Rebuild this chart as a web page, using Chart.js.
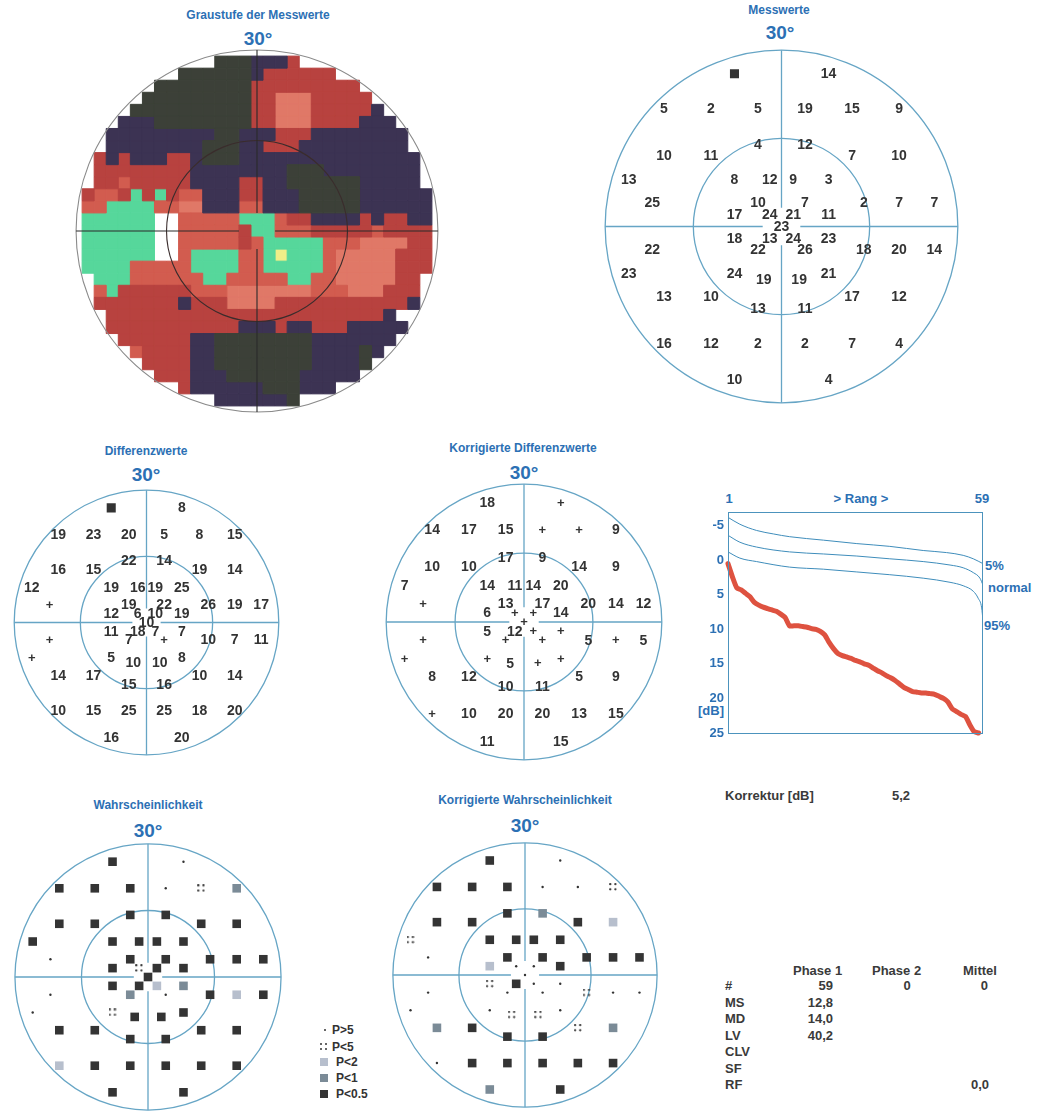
<!DOCTYPE html>
<html><head><meta charset="utf-8">
<script src="https://cdn.jsdelivr.net/npm/chart.js"></script>
<style>
html,body{margin:0;padding:0;background:#fff;}
body{width:1037px;height:1111px;position:relative;overflow:hidden;font-family:"Liberation Sans",Arial,Helvetica,sans-serif;}
canvas{position:absolute;display:block;}
.t{position:absolute;font-weight:bold;white-space:nowrap;line-height:1;}
.c{transform:translateX(-50%);}
.r{transform:translateX(-100%);}
.blue{color:#2c70b4;}
.ttl{font-size:12px;}
.deg{font-size:19px;}
.dk{color:#3a3a3a;font-size:13px;}
.lg{color:#333;font-size:12px;}
.b13{font-size:13px;}
.sq{position:absolute;width:8px;height:8px;}
.dot{position:absolute;width:2px;height:2px;background:#333;border-radius:1px;}
</style></head><body>

<div class="t c blue ttl" style="left:258px;top:9px">Graustufe der Messwerte</div>
<div class="t c blue deg" style="left:258px;top:29px">30°</div>
<div class="t c blue ttl" style="left:779px;top:4px">Messwerte</div>
<div class="t c blue deg" style="left:780px;top:23px">30°</div>
<div class="t c blue ttl" style="left:146px;top:445px">Differenzwerte</div>
<div class="t c blue deg" style="left:146px;top:465px">30°</div>
<div class="t c blue ttl" style="left:523px;top:442px">Korrigierte Differenzwerte</div>
<div class="t c blue deg" style="left:524px;top:463px">30°</div>
<div class="t c blue ttl" style="left:148px;top:799px">Wahrscheinlichkeit</div>
<div class="t c blue deg" style="left:148px;top:821px">30°</div>
<div class="t c blue ttl" style="left:525px;top:794px">Korrigierte Wahrscheinlichkeit</div>
<div class="t c blue deg" style="left:525px;top:816px">30°</div>

<div class="t c blue b13" style="left:729px;top:492px">1</div>
<div class="t c blue b13" style="left:861px;top:492px">&gt; Rang &gt;</div>
<div class="t c blue b13" style="left:982px;top:492px">59</div>
<div class="t c blue b13" style="left:711px;top:704px">[dB]</div>
<div class="t blue b13" style="left:985px;top:559px">5%</div>
<div class="t blue b13" style="left:988px;top:581px">normal</div>
<div class="t blue b13" style="left:984px;top:619px">95%</div>

<div class="t dk" style="left:725px;top:789px">Korrektur [dB]</div>
<div class="t dk" style="left:892px;top:789px">5,2</div>

<div class="t dk" style="left:793px;top:964px">Phase 1</div>
<div class="t dk" style="left:872px;top:964px">Phase 2</div>
<div class="t dk" style="left:963px;top:964px">Mittel</div>
<div class="t dk" style="left:725px;top:979px">#</div>
<div class="t dk" style="left:725px;top:996px">MS</div>
<div class="t dk" style="left:725px;top:1012px">MD</div>
<div class="t dk" style="left:725px;top:1029px">LV</div>
<div class="t dk" style="left:725px;top:1045px">CLV</div>
<div class="t dk" style="left:725px;top:1062px">SF</div>
<div class="t dk" style="left:725px;top:1078px">RF</div>
<div class="t dk r" style="left:833px;top:979px">59</div>
<div class="t dk r" style="left:833px;top:996px">12,8</div>
<div class="t dk r" style="left:833px;top:1012px">14,0</div>
<div class="t dk r" style="left:833px;top:1029px">40,2</div>
<div class="t dk c" style="left:907px;top:979px">0</div>
<div class="t dk r" style="left:988px;top:979px">0</div>
<div class="t dk r" style="left:989px;top:1078px">0,0</div>

<div class="dot" style="left:324px;top:1029px"></div>
<div class="t lg" style="left:332px;top:1024px">P&gt;5</div>
<div class="dot" style="left:320px;top:1043px"></div><div class="dot" style="left:325px;top:1043px"></div>
<div class="dot" style="left:320px;top:1048px"></div><div class="dot" style="left:325px;top:1048px"></div>
<div class="t lg" style="left:332px;top:1041px">P&lt;5</div>
<div class="sq" style="left:320px;top:1058px;background:#b7bfcd"></div>
<div class="t lg" style="left:336px;top:1056px">P&lt;2</div>
<div class="sq" style="left:320px;top:1074px;background:#7b8b97"></div>
<div class="t lg" style="left:336px;top:1072px">P&lt;1</div>
<div class="sq" style="left:320px;top:1090px;background:#343434"></div>
<div class="t lg" style="left:336px;top:1088px">P&lt;0.5</div>

<script>
// ---------------- DATA ----------------
// test point positions (degrees) of the 59-point 30° pattern
const fieldX = [-8,8, -20,-12,-4,4,12,20, -4,4, -20,-12,12,20, -26,-8,-2,2,8, -22,-4,4,14,20,26, -8,-2,2,8, 0, -8,-2,2,8, -22,-4,4,14,20,26, -26,-8,-3,3,8, -20,-12,12,20, -4,4, -20,-12,-4,4,12,20, -8,8];
const fieldY = [26,26, 20,20,20,20,20,20, 14,14, 12,12,12,12, 8,8,8,8,8, 4,4,4,4,4,4, 2,2,2,2, 0, -2,-2,-2,-2, -4,-4,-4,-4,-4,-4, -8,-8,-9,-9,-8, -12,-12,-12,-12, -14,-14, -20,-20,-20,-20,-20,-20, -26,-26];

const messwerte = ['■',14, 5,2,5,19,15,9, 4,12, 10,11,7,10, 13,8,12,9,3, 25,10,7,2,7,7, 17,24,21,11, 23, 18,13,24,23, 22,22,26,18,20,14, 23,24,19,19,21, 13,10,17,12, 13,11, 16,12,2,2,7,4, 10,4];
const differenzwerte = ['■',8, 19,23,20,5,8,15, 22,14, 16,15,19,14, 12,19,16,19,25, '+',19,22,26,19,17, 12,6,10,19, 10, 11,18,7,7, '+',7,'+',10,7,11, '+',5,10,10,8, 14,17,10,14, 15,16, 10,15,25,25,18,20, 16,20];
const korrDifferenzwerte = [18,'+', 14,17,15,'+','+',9, 17,9, 10,10,14,9, 7,14,11,14,20, '+',13,17,20,14,12, 6,'+','+',14, '+', 5,12,'+','+', '+','+','+',5,'+',5, '+','+',5,'+','+', 8,12,5,9, 10,11, '+',10,20,20,13,15, 11,15];

// probability classes: d=P<0.5, g=P<1, l=P<2, q=P<5, o=P>5
const wahrscheinlichkeit = ['d','o', 'd','d','d','o','q','g', 'd','d', 'd','d','d','d', 'd','d','d','d','d', 'o','d','d','d','d','d', 'd','q','d','d', 'd', 'd','d','l','g', 'o','g','o','d','l','d', 'o','q','d','d','d', 'd','d','d','d', 'd','d', 'l','d','d','d','d','d', 'd','d'];
const korrWahrscheinlichkeit = ['d','o', 'd','d','d','o','o','q', 'd','g', 'd','d','d','l', 'q','d','d','d','d', 'o','d','d','d','d','d', 'l','o','o','d', 'o', 'q','d','o','o', 'o','o','o','q','o','o', 'o','o','q','q','o', 'g','d','q','g', 'd','d', 'o','d','d','d','d','d', 'g','d'];

// grey-scale map cells, rows y = 28 .. -28 (step 2), columns x = -30 .. 30 (step 2)
const mapRows = [
"............DDDPPPR............",
".........DDDDDDPRRRRRR.........",
".......DDDDDDDDRRRRRRRRR.......",
"......DDDDDDDDDRRLLLRRRRR......",
".....DDDDDDDDDDRRLLLRRRRRP.....",
"....PPPDDDDDDDDRRLLLRRRRPPP....",
"...PPPPPPPPPDDPPPRRRPPPPPPPP...",
"...PPPPPPPPDDDPPRRRPPPPPPPPP...",
"..RPRPPPRRPDDDPPPPPPPPPPPPPPP..",
"..RRRRRRRRPPPPPPPPDDDPPPPPPPP..",
"..RRSRRRRRPPPPRRPPDDDDDDPPPPP..",
".RSSRGRGRSSPPPRRPPPDDDDDPPPPPP.",
".SSGGGGSSLLPPPSSPPPDDDDDPPPPPP.",
".GGGGGGWWSSSSSGGGSRRPPPPRPRRPP.",
".GGGGGGWWSSSSSRGGSSSRRRRRSRRRR.",
".GGGGGGWWSSSSSRSGGGGGSSSLLLLRR.",
".GGGGGGWWSGGGGSSGYGGGSLLLLLRRR.",
".GGGGSSSSSGGGGSSGGGGGSLLLLLRRR.",
"..GGGSSSSSSGGSSSSSGGSSLLLLLRR..",
"..SGRRRRRRSSSLLLLLLLSSSLLLRRR..",
"..RRRRRRRPRRRLLLLRRRRRRRRRRRP..",
"...RRRRRRRRRRRRRRRRRRRRRRRP...",
"...RRRRRRRRRRRPPPRPPRRRPPPPP...",
"....RRRRRRPPDDDDDDDDPPPPPPP....",
".....SRRRRPPDDDDDDDDPPPPDP.....",
"......RRRRPPDDDDDDDDPPPPD......",
".......RRRPPPDDDDDDPPPPP.......",
".........RPPPPPPDDDPPP.........",
"............PPPPPPD............"
];
const mapClasses = ['D','P','R','S','L','G','Y'];
const mapColors = {D:'#3c4038', P:'#3c3353', R:'#b8423f', S:'#d25c4f', L:'#e07867', G:'#56d79b', Y:'#efee88'};

// Bebie curve (rank -> dB)
const rank5 = [1,3.7,7.5,11.3,15,22.7,30.3,37.8,45.4,50.7,54.5,56.8,59];
const curve5 = [-6.2,-5.2,-4.3,-3.8,-3.4,-2.9,-2.4,-2.0,-1.4,-1.1,-0.7,-0.2,0.5];
const rankNormal = [1,3.7,7.5,15,22.7,30.3,37.8,45.4,51.5,54.5,56.8,58.3,59];
const curveNormal = [-3.6,-2.6,-1.9,-1.2,-0.9,-0.6,-0.2,0.2,0.7,1.1,1.8,2.6,3.6];
const rank95 = [1,3.7,7.5,15,22.7,30.3,37.8,45.4,51.5,54.5,56.8,57.9,58.7,59];
const curve95 = [-1.2,-0.3,0.2,1.0,1.3,1.7,2.1,2.6,3.2,3.7,4.5,5.5,6.9,8.8];
const defectCurve = [0.5,2.4,4.0,4.3,4.8,5.3,6.1,6.5,6.8,7.0,7.2,7.4,7.8,8.3,9.5,9.5,9.5,9.6,9.7,9.9,10.0,10.3,10.8,11.9,12.8,13.5,13.8,14.0,14.2,14.5,14.7,15.0,15.2,15.6,16.0,16.3,16.7,17.0,17.4,17.9,18.4,18.7,19.0,19.1,19.2,19.2,19.3,19.4,19.7,20.0,20.5,21.5,21.9,22.3,22.6,23.8,24.8,25.0];
const dbTicks = [-5,0,5,10,15,20,25];

// ---------------- RENDERING ----------------
Chart.defaults.font.family = '"Liberation Sans", Arial, sans-serif';
const FONT = '"Liberation Sans", Arial, sans-serif';

function makeCanvas(left, top, w, h){
  const c = document.createElement('canvas');
  c.width = w; c.height = h;
  c.style.left = left+'px'; c.style.top = top+'px';
  c.style.width = w+'px'; c.style.height = h+'px';
  document.body.appendChild(c);
  return c;
}

function drawRings(chart, o){
  const xs = chart.scales.x, ys = chart.scales.y, ctx = chart.ctx;
  const cx = xs.getPixelForValue(0), cy = ys.getPixelForValue(0);
  const rx = xs.getPixelForValue(30) - cx, ry = cy - ys.getPixelForValue(30);
  ctx.save();
  ctx.lineWidth = o.lw;
  ctx.strokeStyle = o.outer;
  ctx.beginPath(); ctx.ellipse(cx, cy, rx, ry, 0, 0, Math.PI*2); ctx.stroke();
  ctx.strokeStyle = o.inner; ctx.lineWidth = o.lwInner || o.lw;
  ctx.beginPath(); ctx.ellipse(cx, cy, rx/2, ry/2, 0, 0, Math.PI*2); ctx.stroke();
  ctx.strokeStyle = o.cross; ctx.lineWidth = o.lw;
  const g = o.gap;
  ctx.beginPath();
  ctx.moveTo(xs.getPixelForValue(-30), cy); ctx.lineTo(xs.getPixelForValue(-g), cy);
  ctx.moveTo(xs.getPixelForValue(g), cy); ctx.lineTo(xs.getPixelForValue(30), cy);
  ctx.moveTo(cx, ys.getPixelForValue(30)); ctx.lineTo(cx, ys.getPixelForValue(g));
  ctx.moveTo(cx, ys.getPixelForValue(-g)); ctx.lineTo(cx, ys.getPixelForValue(-30));
  ctx.stroke();
  ctx.restore();
}
const ringPlugin = {
  id: 'rings',
  beforeDatasetsDraw(chart, args, o){ if (!o.over) drawRings(chart, o); },
  afterDatasetsDraw(chart, args, o){ if (o.over) drawRings(chart, o); }
};
const labelPlugin = {
  id: 'vlabels',
  afterDatasetsDraw(chart){
    const ctx = chart.ctx;
    chart.data.datasets.forEach((ds, i) => {
      if (!ds.valueLabels) return;
      const meta = chart.getDatasetMeta(i);
      ctx.save();
      ctx.fillStyle = '#333'; ctx.textAlign = 'center'; ctx.textBaseline = 'middle';
      meta.data.forEach((el, k) => {
        const v = ds.valueLabels[k];
        ctx.font = (v === '+') ? 'bold 13px '+FONT : 'bold 14px '+FONT;
        ctx.fillText(String(v), el.x, el.y + 0.5);
      });
      ctx.restore();
    });
  }
};

function ringOptions(r){
  return {
    responsive:false, maintainAspectRatio:false, animation:false, devicePixelRatio:1, events:[],
    layout:{padding:0},
    plugins:{legend:{display:false}, tooltip:{enabled:false}, rings:r},
    scales:{
      x:{type:'linear', min:-32, max:32, display:false},
      y:{type:'linear', min:-32, max:32, display:false}
    }
  };
}
const blueRing = {outer:'#66a5c5', inner:'#66a5c5', cross:'#66a5c5', lw:1.3, gap:3.2, over:false};

function numberPanel(left, top, size, values){
  const cv = makeCanvas(left, top, size, size);
  const textPts = [], textVals = [], sqPts = [];
  values.forEach((v, i) => {
    const p = {x: fieldX[i], y: fieldY[i]};
    if (v === '■') sqPts.push(p); else { textPts.push(p); textVals.push(v); }
  });
  new Chart(cv, {
    type:'scatter',
    data:{datasets:[
      {data:textPts, valueLabels:textVals, pointRadius:0, pointHoverRadius:0},
      {data:sqPts, pointStyle:'rect', pointRadius:6.4, pointBackgroundColor:'#333', pointBorderWidth:0}
    ]},
    options: ringOptions(blueRing),
    plugins:[ringPlugin, labelPlugin]
  });
}

function fourDots(){
  const c = document.createElement('canvas');
  c.width = 8; c.height = 8;
  const x = c.getContext('2d');
  x.fillStyle = '#333';
  [[1.2,1.2],[6.3,1.2],[1.2,6.3],[6.3,6.3]].forEach(([a,b]) => { x.beginPath(); x.arc(a, b, 1.15, 0, Math.PI*2); x.fill(); });
  return c;
}
const quadStyle = fourDots();

function probPanel(left, top, size, classes){
  const cv = makeCanvas(left, top, size, size);
  const pick = k => classes.map((c, i) => c === k ? {x: fieldX[i], y: fieldY[i]} : null).filter(Boolean);
  const sqR = 8.6 / (2*Math.SQRT1_2);
  new Chart(cv, {
    type:'scatter',
    data:{datasets:[
      {data:pick('d'), pointStyle:'rect', pointRadius:sqR, pointBackgroundColor:'#343434', pointBorderWidth:0},
      {data:pick('g'), pointStyle:'rect', pointRadius:sqR, pointBackgroundColor:'#7b8b97', pointBorderWidth:0},
      {data:pick('l'), pointStyle:'rect', pointRadius:sqR, pointBackgroundColor:'#b7bfcd', pointBorderWidth:0},
      {data:pick('q'), pointStyle:quadStyle, pointRadius:4},
      {data:pick('o'), pointStyle:'circle', pointRadius:1.2, pointBackgroundColor:'#333', pointBorderWidth:0}
    ]},
    options: ringOptions(blueRing),
    plugins:[ringPlugin]
  });
}

// grey-scale map
(function(){
  const cv = makeCanvas(64, 38, 386, 386);
  const datasets = mapClasses.map(k => {
    const pts = [];
    mapRows.forEach((row, r) => {
      for (let j = 0; j < row.length; j++) if (row[j] === k) pts.push({x: -30 + 2*j, y: 28 - 2*r});
    });
    return {
      data: pts, pointStyle:'rect',
      pointRadius: c => { const s = c.chart.scales.x; return (s.getPixelForValue(2) - s.getPixelForValue(0)) / (2*Math.SQRT1_2); },
      pointBackgroundColor: mapColors[k], pointBorderColor: mapColors[k], pointBorderWidth: 1
    };
  });
  new Chart(cv, {
    type:'scatter',
    data:{datasets},
    options: ringOptions({outer:'#8a8a8a', inner:'#3a2c2c', cross:'#2a2a2a', lw:1.1, gap:3, over:true}),
    plugins:[ringPlugin]
  });
})();

numberPanel(587, 32, 389, messwerte);
numberPanel(-1, 475, 295, differenzwerte);
numberPanel(377, 475, 294, korrDifferenzwerte);
probPanel(0, 829, 296, wahrscheinlichkeit);
probPanel(378, 828, 294, korrWahrscheinlichkeit);

// Bebie curve
(function(){
  const cv = makeCanvas(690, 500, 300, 245);
  const pts = (xs, ys) => xs.map((x, i) => ({x, y: ys[i]}));
  const boxPlugin = {id:'box', afterDatasetsDraw(chart){
    const a = chart.chartArea, ctx = chart.ctx;
    ctx.save(); ctx.strokeStyle = '#4c93bd'; ctx.lineWidth = 1;
    ctx.strokeRect(Math.round(a.left)+0.5, Math.round(a.top)+0.5, Math.round(a.right-a.left)-1, Math.round(a.bottom-a.top));
    ctx.restore();
  }};
  const thin = {borderColor:'#3f8dbb', borderWidth:1, pointRadius:0, cubicInterpolationMode:'monotone', fill:false};
  new Chart(cv, {
    type:'line',
    data:{datasets:[
      Object.assign({data: pts(rank5, curve5)}, thin),
      Object.assign({data: pts(rankNormal, curveNormal)}, thin),
      Object.assign({data: pts(rank95, curve95)}, thin),
      {data: defectCurve.map((v, i) => ({x: i+1, y: v})), borderColor:'#de5240', borderWidth:5, pointRadius:0, borderJoinStyle:'round', borderCapStyle:'round', tension:0.2, clip:4}
    ]},
    options:{
      responsive:false, maintainAspectRatio:false, animation:false, devicePixelRatio:1, events:[],
      layout:{padding:{top:10, right:7, bottom:12, left:0}},
      plugins:{legend:{display:false}, tooltip:{enabled:false}},
      scales:{
        x:{type:'linear', min:1, max:59, display:false},
        y:{type:'linear', min:-7, max:25, reverse:true,
           grid:{display:false, drawTicks:false}, border:{display:false},
           afterBuildTicks: a => { a.ticks = dbTicks.map(v => ({value:v})); },
           afterFit: a => { a.width = 38; },
           ticks:{color:'#2c70b4', padding:4, font:{size:13, weight:'bold'}}
        }
      }
    },
    plugins:[boxPlugin]
  });
})();
</script>
</body></html>
